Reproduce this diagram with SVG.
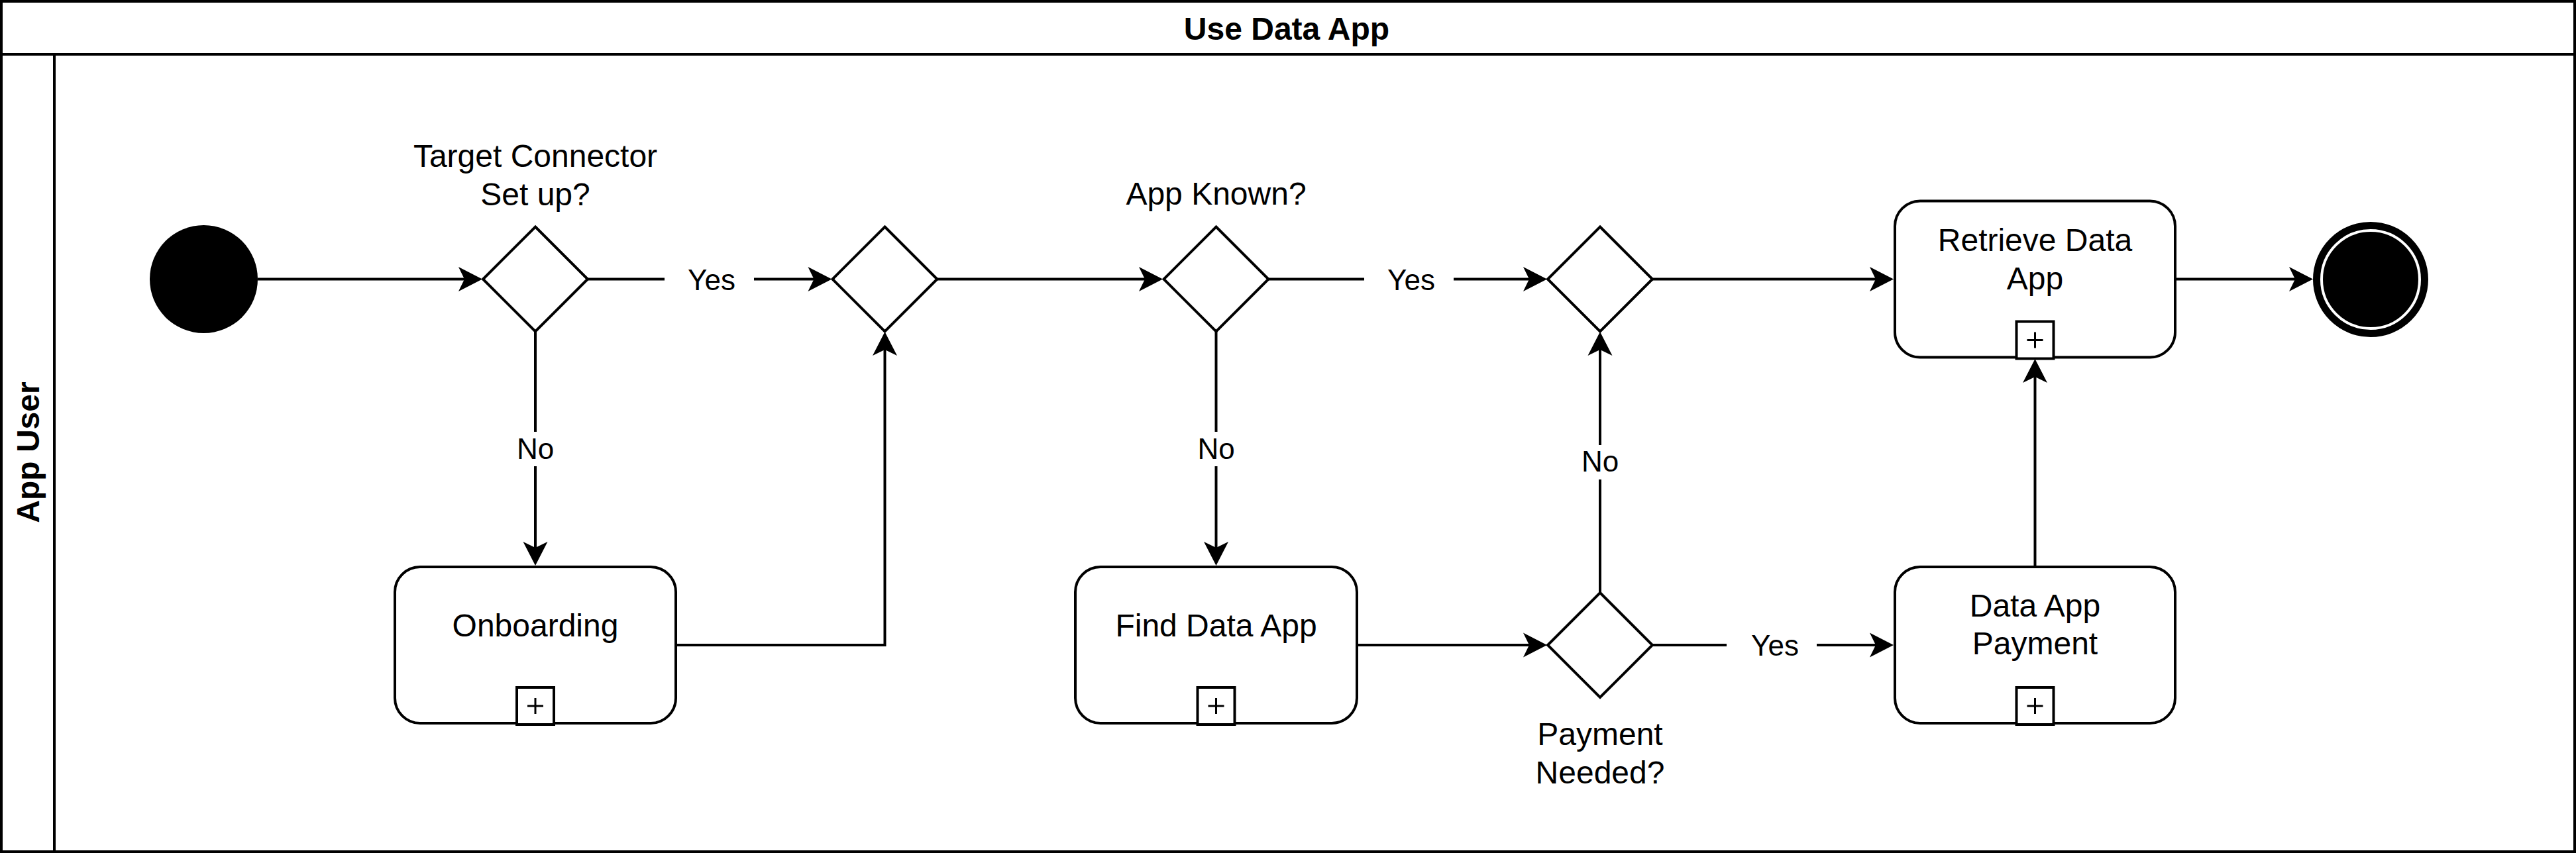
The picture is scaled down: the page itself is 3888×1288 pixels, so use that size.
<svg xmlns="http://www.w3.org/2000/svg" xmlns:xlink="http://www.w3.org/1999/xlink" width="3888" height="1288" viewBox="0 0 3888 1288">
<style>
.frame{fill:#fff;stroke:#000;stroke-width:4}
.node{fill:#fff;stroke:#000;stroke-width:4}
.ln{fill:none;stroke:#000;stroke-width:4}
.t{font-family:"Liberation Sans",Arial,Helvetica,sans-serif;font-size:48px;text-anchor:middle;fill:#000}
.b{font-weight:bold}
.el{font-size:44px}
.lbg{fill:#fff;stroke:none}
</style>
<defs>
<marker id="arr" markerUnits="userSpaceOnUse" markerWidth="40" markerHeight="40" viewBox="0 0 40 40" refX="26" refY="20" orient="auto" overflow="visible">
<path d="M0,1.5 L36,20 L0,38.5 L9,20 Z" fill="#000"/>
</marker>
<g id="plus">
<rect x="-28" y="-56" width="56" height="56" fill="#fff" stroke="#000" stroke-width="4"/>
<path d="M-12,-28 H12 M0,-40 V-16" stroke="#000" stroke-width="3" fill="none"/>
</g>
</defs>
<rect width="3888" height="1288" fill="#fff"/>
<g id="pool">
<rect class="frame" x="2" y="2" width="3884" height="1284"/>
<line class="ln" x1="2" y1="82" x2="3886" y2="82"/>
<text class="t b" x="1942" y="60">Use Data App</text>
</g>
<g id="lane">
<line class="ln" x1="82" y1="82" x2="82" y2="1286"/>
<text class="t b" transform="translate(59,683) rotate(-90)">App User</text>
</g>
<g id="connectors">
<path class="ln" d="M389,421.5 H718" marker-end="url(#arr)"/>
<path class="ln" d="M887,421.5 H1245.5" marker-end="url(#arr)"/>
<path class="ln" d="M808,500 V844" marker-end="url(#arr)"/>
<path class="ln" d="M1022,974 H1335.5 V511" marker-end="url(#arr)"/>
<path class="ln" d="M1414.5,421.5 H1745" marker-end="url(#arr)"/>
<path class="ln" d="M1914,421.5 H2325" marker-end="url(#arr)"/>
<path class="ln" d="M1835.5,500 V844" marker-end="url(#arr)"/>
<path class="ln" d="M2050,974 H2325" marker-end="url(#arr)"/>
<path class="ln" d="M2415,895 V511" marker-end="url(#arr)"/>
<path class="ln" d="M2494,974 H2848" marker-end="url(#arr)"/>
<path class="ln" d="M2494,421.5 H2848" marker-end="url(#arr)"/>
<path class="ln" d="M3071.5,854 V552" marker-end="url(#arr)"/>
<path class="ln" d="M3285,421.5 H3481" marker-end="url(#arr)"/>
<g id="edge-labels">
<rect class="lbg" x="1003" y="396" width="135" height="52"/>
<text class="t el" x="1074" y="437.5">Yes</text>
<rect class="lbg" x="2059" y="396" width="135" height="52"/>
<text class="t el" x="2130" y="437.5">Yes</text>
<rect class="lbg" x="2606" y="948" width="136" height="52"/>
<text class="t el" x="2679" y="990">Yes</text>
<rect class="lbg" x="773" y="652" width="70" height="52"/>
<text class="t el" x="808" y="693">No</text>
<rect class="lbg" x="1800" y="652" width="70" height="52"/>
<text class="t el" x="1835.5" y="693">No</text>
<rect class="lbg" x="2380" y="672" width="70" height="52"/>
<text class="t el" x="2415" y="712">No</text>
</g>
</g>
<g id="start">
<circle cx="307.5" cy="421.5" r="81.5" fill="#000"/>
</g>
<g id="gw-target-connector">
<path class="node" d="M808,342.5 L887,421.5 L808,500.5 L729,421.5 Z"/>
<text class="t" x="808" y="252">Target Connector</text>
<text class="t" x="808" y="309.5">Set up?</text>
</g>
<g id="gw-merge-1">
<path class="node" d="M1335.5,342.5 L1414.5,421.5 L1335.5,500.5 L1256.5,421.5 Z"/>
</g>
<g id="gw-app-known">
<path class="node" d="M1835.5,342.5 L1914.5,421.5 L1835.5,500.5 L1756.5,421.5 Z"/>
<text class="t" x="1835.5" y="308.5">App Known?</text>
</g>
<g id="gw-merge-2">
<path class="node" d="M2415,342.5 L2494,421.5 L2415,500.5 L2336,421.5 Z"/>
</g>
<g id="gw-payment-needed">
<path class="node" d="M2415,895 L2494,974 L2415,1053 L2336,974 Z"/>
<text class="t" x="2415" y="1125">Payment</text>
<text class="t" x="2415" y="1182.5">Needed?</text>
</g>
<g id="task-onboarding">
<rect class="node" x="596" y="856" width="424" height="236" rx="38" ry="38"/>
<text class="t" x="808" y="961">Onboarding</text>
<use xlink:href="#plus" transform="translate(808,1094)"/>
</g>
<g id="task-find-data-app">
<rect class="node" x="1623" y="856" width="425" height="236" rx="38" ry="38"/>
<text class="t" x="1835.5" y="961">Find Data App</text>
<use xlink:href="#plus" transform="translate(1835.5,1094)"/>
</g>
<g id="task-retrieve-data-app">
<rect class="node" x="2860" y="303.5" width="423" height="236" rx="38" ry="38"/>
<text class="t" x="3071.5" y="379">Retrieve Data</text>
<text class="t" x="3071.5" y="436.5">App</text>
<use xlink:href="#plus" transform="translate(3071.5,541.5)"/>
</g>
<g id="task-data-app-payment">
<rect class="node" x="2860" y="856" width="423" height="236" rx="38" ry="38"/>
<text class="t" x="3071.5" y="930.5">Data App</text>
<text class="t" x="3071.5" y="988">Payment</text>
<use xlink:href="#plus" transform="translate(3071.5,1094)"/>
</g>
<g id="end">
<circle cx="3578" cy="422" r="81" fill="#000" stroke="#000" stroke-width="12"/>
<circle cx="3578" cy="422" r="74" fill="none" stroke="#fff" stroke-width="4"/>
</g>
</svg>
